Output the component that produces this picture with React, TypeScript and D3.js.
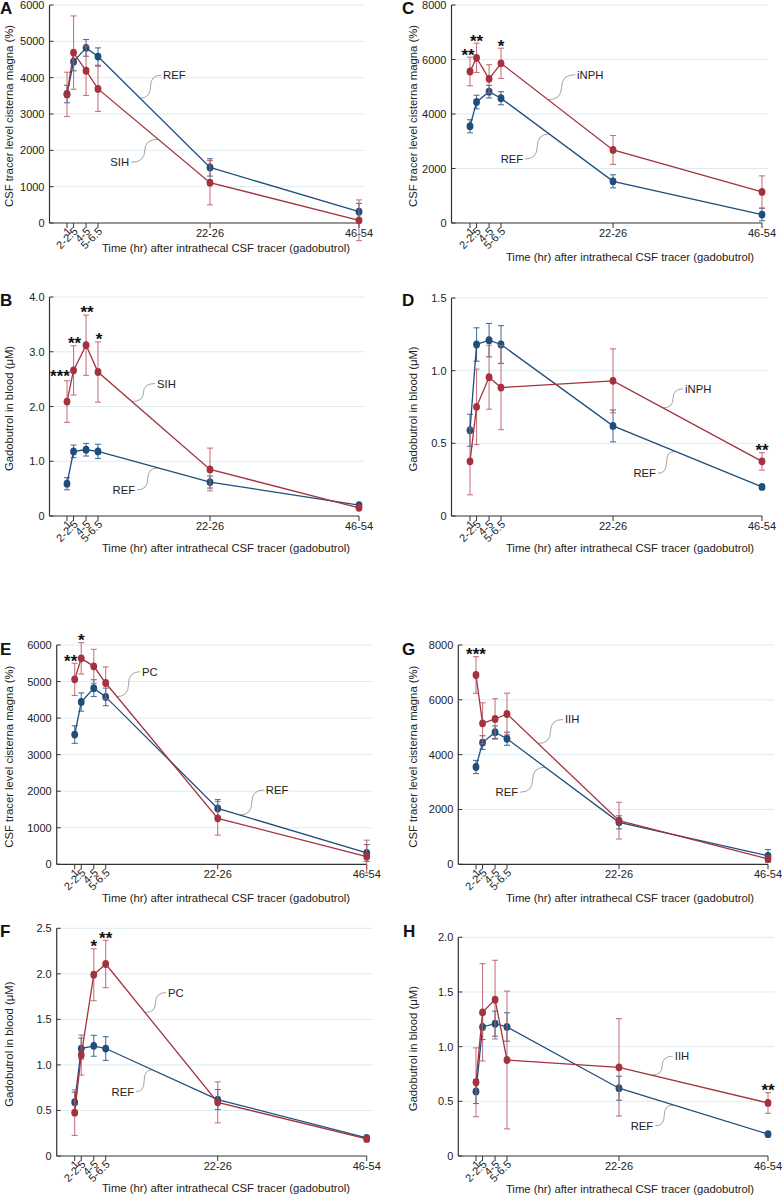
import React from 'react';
import * as d3 from 'd3';

// ---------- data ----------
const timeLabels = ['1', '2-2.5', '4-5', '5-6.5', '22-26', '46-54'];
const timeHours = [1, 2.1, 4.2, 6.2, 25, 50];
const rotatedTick = [true, true, true, true, false, false];

const refCsf = [3550, 4440, 4820, 4580, 1530, 310];
const refCsfErr = [240, 250, 230, 240, 240, 230];
const refBlood = [0.59, 1.18, 1.21, 1.18, 0.62, 0.2];
const refBloodErr = [0.11, 0.115, 0.115, 0.13, 0.11, 0.015];

const sihCsf = [3540, 4690, 4190, 3690, 1110, 75];
const sihCsfErr = [610, 1010, 680, 620, 610, 560];
const sihBlood = [2.09, 2.66, 3.12, 2.63, 0.85, 0.15];
const sihBloodErr = [0.38, 0.45, 0.55, 0.55, 0.39, 0.04];

const inphCsf = [5560, 6060, 5290, 5860, 2680, 1140];
const inphCsfErr = [525, 540, 520, 555, 530, 590];
const inphBlood = [0.376, 0.751, 0.955, 0.884, 0.93, 0.376];
const inphBloodErr = [0.23, 0.26, 0.22, 0.29, 0.22, 0.06];

const pcCsf = [5060, 5635, 5416, 4960, 1258, 210];
const pcCsfErr = [440, 430, 465, 440, 460, 450];
const pcBlood = [0.476, 1.109, 1.99, 2.108, 0.589, 0.187];
const pcBloodErr = [0.25, 0.22, 0.285, 0.26, 0.225, 0.03];

const iihCsf = [6906, 5143, 5301, 5483, 1593, 195];
const iihCsfErr = [670, 750, 740, 760, 670, 100];
const iihBlood = [0.674, 1.314, 1.43, 0.878, 0.811, 0.485];
const iihBloodErr = [0.315, 0.445, 0.36, 0.63, 0.445, 0.095];

const csfTitle = 'CSF tracer level cisterna magna (%)';
const bloodTitle = 'Gadobutrol in blood (\u03BCM)';
const xTitle = 'Time (hr) after intrathecal CSF tracer (gadobutrol)';

// ---------- style ----------
const FONT = '"Liberation Sans", Arial, Helvetica, sans-serif';
const BLUE = '#1f4e7c';
const RED = '#a3323e';
const BLUE_ERR = '#2f5d89';
const RED_ERR = '#bd5f68';
const GRID = '#dcecf1';
const AXIS = '#333333';
const CONNECT = '#8c8c8c';

type Star = { i: number; text: string; dx: number; dy?: number };
type Ann = { series: 'ref' | 'grp'; t: number; dx: number; dy: number; text: string };
type PanelCfg = {
  id: string;
  labelX: number; labelY: number;
  x0: number; top: number; bottom: number; x1px: number;
  yMax: number; yStep: number; blood: boolean;
  ref: number[]; refErr: number[]; grp: number[]; grpErr: number[];
  yTitle: string; yTitleX: number;
  xTitleX: number; xTitleY: number;
  stars: Star[]; anns: Ann[];
};

const panels: PanelCfg[] = [
  {
    id: 'A', labelX: 0, labelY: 13.5, x0: 49.5, top: 5, bottom: 223, x1px: 67,
    yMax: 6000, yStep: 1000, blood: false,
    ref: refCsf, refErr: refCsfErr, grp: sihCsf, grpErr: sihCsfErr,
    yTitle: csfTitle, yTitleX: 13, xTitleX: 226, xTitleY: 252,
    stars: [],
    anns: [
      { series: 'ref', t: 13.25, dx: 21, dy: -23, text: 'REF' },
      { series: 'grp', t: 16.3, dx: -27, dy: 23, text: 'SIH' },
    ],
  },
  {
    id: 'B', labelX: 0, labelY: 306, x0: 49.5, top: 297, bottom: 516, x1px: 67,
    yMax: 4, yStep: 1, blood: true,
    ref: refBlood, refErr: refBloodErr, grp: sihBlood, grpErr: sihBloodErr,
    yTitle: bloodTitle, yTitleX: 13, xTitleX: 226, xTitleY: 551.5,
    stars: [
      { i: 0, text: '***', dx: -7, dy: -2 },
      { i: 1, text: '**', dx: 1 },
      { i: 2, text: '**', dx: 1 },
      { i: 3, text: '*', dx: 1 },
    ],
    anns: [
      { series: 'grp', t: 11.9, dx: 23, dy: -18, text: 'SIH' },
      { series: 'ref', t: 16.3, dx: -21, dy: 22, text: 'REF' },
    ],
  },
  {
    id: 'C', labelX: 402, labelY: 13.5, x0: 451.5, top: 5, bottom: 223, x1px: 470,
    yMax: 8000, yStep: 2000, blood: false,
    ref: refCsf, refErr: refCsfErr, grp: inphCsf, grpErr: inphCsfErr,
    yTitle: csfTitle, yTitleX: 416.5, xTitleX: 630, xTitleY: 261,
    stars: [
      { i: 0, text: '**', dx: -2 },
      { i: 1, text: '**', dx: 0 },
      { i: 3, text: '*', dx: 0 },
    ],
    anns: [
      { series: 'grp', t: 14.1, dx: 27, dy: -25, text: 'iNPH' },
      { series: 'ref', t: 14.3, dx: -24, dy: 25, text: 'REF' },
    ],
  },
  {
    id: 'D', labelX: 402, labelY: 305.5, x0: 451.5, top: 298, bottom: 516, x1px: 470,
    yMax: 1.5, yStep: 0.5, blood: true,
    ref: refBlood, refErr: refBloodErr, grp: inphBlood, grpErr: inphBloodErr,
    yTitle: bloodTitle, yTitleX: 416.5, xTitleX: 630, xTitleY: 552,
    stars: [{ i: 5, text: '**', dx: 0 }],
    anns: [
      { series: 'grp', t: 33.4, dx: 20, dy: -19, text: 'iNPH' },
      { series: 'ref', t: 35.4, dx: -17, dy: 22, text: 'REF' },
    ],
  },
  {
    id: 'E', labelX: 0, labelY: 655, x0: 56.7, top: 645, bottom: 864.3, x1px: 74.7,
    yMax: 6000, yStep: 1000, blood: false,
    ref: refCsf, refErr: refCsfErr, grp: pcCsf, grpErr: pcCsfErr,
    yTitle: csfTitle, yTitleX: 13, xTitleX: 226, xTitleY: 902,
    stars: [
      { i: 0, text: '**', dx: -4 },
      { i: 1, text: '*', dx: 0 },
    ],
    anns: [
      { series: 'grp', t: 8.1, dx: 23, dy: -25, text: 'PC' },
      { series: 'ref', t: 28.7, dx: 24, dy: -25, text: 'REF' },
    ],
  },
  {
    id: 'F', labelX: 0, labelY: 937, x0: 56.7, top: 928.3, bottom: 1156, x1px: 74.7,
    yMax: 2.5, yStep: 0.5, blood: true,
    ref: refBlood, refErr: refBloodErr, grp: pcBlood, grpErr: pcBloodErr,
    yTitle: bloodTitle, yTitleX: 13, xTitleX: 226, xTitleY: 1192,
    stars: [
      { i: 2, text: '*', dx: 0 },
      { i: 3, text: '**', dx: 0 },
    ],
    anns: [
      { series: 'grp', t: 12.8, dx: 21, dy: -20, text: 'PC' },
      { series: 'ref', t: 14.0, dx: -16, dy: 22, text: 'REF' },
    ],
  },
  {
    id: 'G', labelX: 402, labelY: 655, x0: 458.3, top: 645, bottom: 864.3, x1px: 476,
    yMax: 8000, yStep: 2000, blood: false,
    ref: refCsf, refErr: refCsfErr, grp: iihCsf, grpErr: iihCsfErr,
    yTitle: csfTitle, yTitleX: 416.5, xTitleX: 630, xTitleY: 902,
    stars: [{ i: 0, text: '***', dx: 0 }],
    anns: [
      { series: 'grp', t: 11.4, dx: 25, dy: -24, text: 'IIH' },
      { series: 'ref', t: 12.6, dx: -25, dy: 25, text: 'REF' },
    ],
  },
  {
    id: 'H', labelX: 403, labelY: 937, x0: 458.3, top: 937.3, bottom: 1156, x1px: 476,
    yMax: 2, yStep: 0.5, blood: true,
    ref: refBlood, refErr: refBloodErr, grp: iihBlood, grpErr: iihBloodErr,
    yTitle: bloodTitle, yTitleX: 416.5, xTitleX: 630, xTitleY: 1193,
    stars: [{ i: 5, text: '**', dx: 0 }],
    anns: [
      { series: 'grp', t: 30.5, dx: 21, dy: -19, text: 'IIH' },
      { series: 'ref', t: 34.1, dx: -18, dy: 21, text: 'REF' },
    ],
  },
];

const X_SPAN = 292;

function interp(values: number[], t: number): number {
  for (let i = 0; i < timeHours.length - 1; i++) {
    const a = timeHours[i], b = timeHours[i + 1];
    if (t >= a && t <= b) {
      const f = (t - a) / (b - a);
      return values[i] + f * (values[i + 1] - values[i]);
    }
  }
  return values[values.length - 1];
}

function Series({ vals, errs, color, errColor, x, y }: any) {
  const line = d3
    .line<number>()
    .x((_, i) => x(timeHours[i]))
    .y((d) => y(d));
  return (
    <g>
      {vals.map((v: number, i: number) => {
        const cx = x(timeHours[i]);
        const y1 = y(v + errs[i]);
        const y2 = y(v - errs[i]);
        return (
          <g key={'e' + i} stroke={errColor} strokeWidth={1.1} strokeOpacity={0.85}>
            <line x1={cx} x2={cx} y1={y1} y2={y2} />
            <line x1={cx - 3} x2={cx + 3} y1={y1} y2={y1} />
            <line x1={cx - 3} x2={cx + 3} y1={y2} y2={y2} />
          </g>
        );
      })}
      <path d={line(vals) || ''} fill="none" stroke={color} strokeWidth={1.3} />
      {vals.map((v: number, i: number) => (
        <ellipse key={'m' + i} cx={x(timeHours[i])} cy={y(v)} rx={3.4} ry={3.9} fill={color} />
      ))}
    </g>
  );
}

function Panel({ p }: { p: PanelCfg }) {
  const x = d3.scaleLinear().domain([timeHours[0], timeHours[timeHours.length - 1]]).range([p.x1px, p.x1px + X_SPAN]);
  const y = d3.scaleLinear().domain([0, p.yMax]).range([p.bottom, p.top]);
  const ticks = d3.range(0, p.yMax + p.yStep / 2, p.yStep);
  const fmt = (v: number) => (v === 0 ? '0' : p.blood ? d3.format('.1f')(v) : d3.format('d')(v));
  const xEnd = x(timeHours[timeHours.length - 1]);
  const yMid = (p.top + p.bottom) / 2;

  return (
    <g fontFamily={FONT}>
      {/* grid */}
      {ticks.filter((t) => t > 0).map((t) => (
        <line key={'g' + t} x1={p.x0} x2={xEnd + 6} y1={y(t)} y2={y(t)} stroke={GRID} strokeWidth={1} />
      ))}
      {/* axes */}
      <line x1={p.x0} x2={p.x0} y1={p.top} y2={p.bottom} stroke={AXIS} strokeWidth={1.2} />
      <line x1={p.x0} x2={xEnd} y1={p.bottom} y2={p.bottom} stroke={AXIS} strokeWidth={1.2} />
      {ticks.map((t) => (
        <g key={'yt' + t}>
          <line x1={p.x0} x2={p.x0 + 4} y1={y(t)} y2={y(t)} stroke={AXIS} strokeWidth={1} />
          <text x={p.x0 - 5} y={y(t) + 4} fontSize={11} textAnchor="end" fill="#222">
            {fmt(t)}
          </text>
        </g>
      ))}
      {timeHours.map((h, i) => {
        const tx = x(h);
        return (
          <g key={'xt' + i}>
            <line x1={tx} x2={tx} y1={p.bottom} y2={p.bottom + 5} stroke={AXIS} strokeWidth={1} />
            {rotatedTick[i] ? (
              <text
                transform={`translate(${tx + 5},${p.bottom + 9}) rotate(-45)`}
                fontSize={11}
                textAnchor="end"
                fill="#222"
              >
                {timeLabels[i]}
              </text>
            ) : (
              <text x={tx} y={p.bottom + 14} fontSize={11} textAnchor="middle" fill="#222">
                {timeLabels[i]}
              </text>
            )}
          </g>
        );
      })}
      {/* titles */}
      <text
        transform={`translate(${p.yTitleX},${yMid + 2}) rotate(-90)`}
        fontSize={11.3}
        textAnchor="middle"
        fill="#222"
      >
        {p.yTitle}
      </text>
      <text x={p.xTitleX} y={p.xTitleY} fontSize={11.3} textAnchor="middle" fill="#222">
        {xTitle}
      </text>
      <text x={p.labelX} y={p.labelY} fontSize={17} fontWeight="bold" fill="#111">
        {p.id}
      </text>
      {/* annotations */}
      {p.anns.map((a, k) => {
        const vals = a.series === 'ref' ? p.ref : p.grp;
        const tx = x(a.t);
        const ty = y(interp(vals, a.t));
        const lx = tx + a.dx;
        const ly = ty + a.dy;
        const mx = (lx + tx) / 2;
        const my = (ly + ty) / 2;
        const d = `M${lx},${ly} Q${mx},${ly} ${mx},${my} T${tx},${ty}`;
        return (
          <g key={'a' + k}>
            <path d={d} fill="none" stroke={CONNECT} strokeWidth={0.8} />
            <text
              x={a.dx > 0 ? lx + 2 : lx - 2}
              y={ly + 4}
              fontSize={11.3}
              textAnchor={a.dx > 0 ? 'start' : 'end'}
              fill="#222"
            >
              {a.text}
            </text>
          </g>
        );
      })}
      {/* series */}
      <Series vals={p.ref} errs={p.refErr} color={BLUE} errColor={BLUE_ERR} x={x} y={y} />
      <Series vals={p.grp} errs={p.grpErr} color={RED} errColor={RED_ERR} x={x} y={y} />
      {/* stars */}
      {p.stars.map((s, k) => {
        const cap = y(p.grp[s.i] + p.grpErr[s.i]);
        return (
          <text
            key={'s' + k}
            x={x(timeHours[s.i]) + s.dx}
            y={cap + 3.4 + (s.dy || 0)}
            fontSize={17}
            fontWeight="bold"
            textAnchor="middle"
            fill="#111"
          >
            {s.text}
          </text>
        );
      })}
    </g>
  );
}

export default function App() {
  return (
    <svg
      width={783}
      height={1196}
      style={{ position: 'absolute', left: 0, top: 0, background: '#fff' }}
      xmlns="http://www.w3.org/2000/svg"
    >
      <rect x={0} y={0} width={783} height={1196} fill="#fff" />
      {panels.map((p) => (
        <Panel key={p.id} p={p} />
      ))}
    </svg>
  );
}
